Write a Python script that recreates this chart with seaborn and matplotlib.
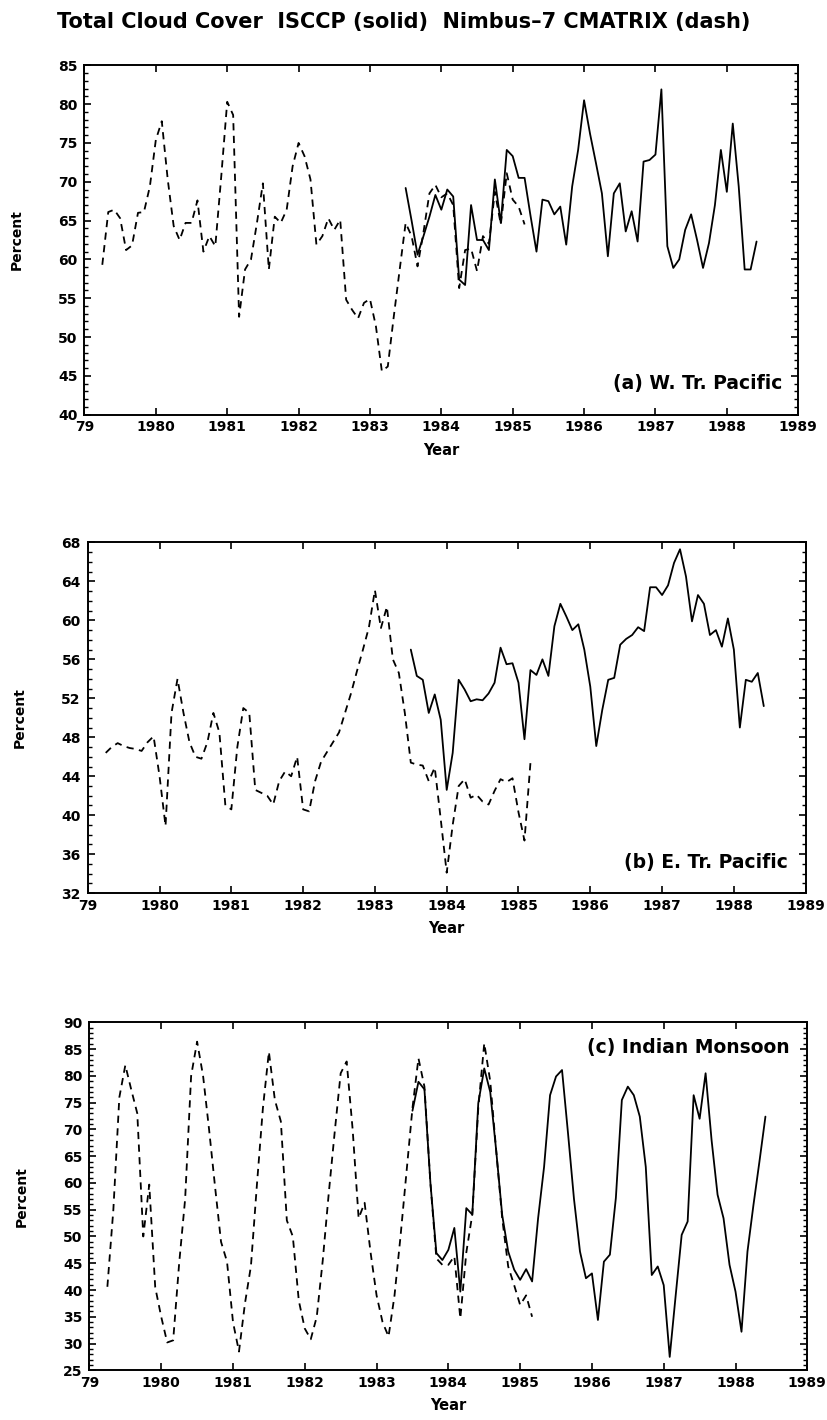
import numpy as np
import pandas as pd
import matplotlib
matplotlib.use("Agg")
import matplotlib.pyplot as plt
from matplotlib.ticker import MultipleLocator, FixedLocator
import seaborn as sns

# Monthly total cloud cover (%).
# Nimbus-7 CMATRIX: Apr 1979 - Mar 1985 ; ISCCP: Jul 1983 - Jun 1988
nimbus_start = (1979, 4)
isccp_start = (1983, 7)

w_pacific_nimbus = [
    59.3, 66.1, 66.4, 65.3, 61.2, 61.8, 66.0, 66.1, 69.4, 75.4, 77.8, 70.3,
    64.3, 62.5, 64.7, 64.7, 67.6, 61.0, 63.0, 61.7, 70.7, 80.3, 78.6, 52.6,
    58.7, 60.0, 64.7, 69.8, 58.7, 65.5, 64.7, 66.4, 72.0, 75.0, 73.3, 70.3,
    61.9, 63.0, 65.3, 63.8, 65.1, 54.8, 53.5, 52.4, 54.4, 54.9, 51.4, 45.6,
    46.2, 52.6, 58.7, 64.7, 63.0, 59.1, 63.5, 68.5, 69.6, 68.0, 68.5, 67.0,
    56.3, 61.2, 61.4, 58.5, 63.0, 62.0, 68.7, 64.5, 71.1, 67.7, 66.8, 64.5,
]
w_pacific_isccp = [
    69.2, 65.0, 60.6, 63.0, 65.5, 68.3, 66.4, 69.0, 68.1, 57.4, 56.7, 67.0,
    62.5, 62.5, 61.2, 70.3, 64.7, 74.1, 73.3, 70.5, 70.5, 65.6, 61.0, 67.7,
    67.5, 65.8, 66.8, 61.9, 69.4, 74.1, 80.5, 76.2, 72.4, 68.5, 60.4, 68.5,
    69.8, 63.6, 66.2, 62.3, 72.6, 72.8, 73.5, 81.9, 61.7, 58.9, 60.0, 63.8,
    65.8, 62.5, 58.9, 62.1, 67.0, 74.1, 68.7, 77.5, 69.4, 58.7, 58.7, 62.3,
]

e_pacific_nimbus = [
    46.4, 47.0, 47.4, 47.1, 46.9, 46.8, 46.6, 47.5, 48.1, 44.0, 38.9, 50.5,
    54.0, 50.5, 47.5, 46.0, 45.8, 47.5, 50.5, 48.5, 41.0, 40.6, 47.0, 51.0,
    50.5, 42.6, 42.3, 42.0, 41.1, 43.5, 44.5, 44.0, 46.0, 40.6, 40.4, 43.5,
    45.5, 46.5, 47.5, 48.5, 50.5, 52.5, 54.8, 57.0, 59.3, 63.1, 59.2, 61.4,
    56.0, 54.6, 50.5, 45.4, 45.2, 45.1, 43.5, 44.9, 39.6, 34.1, 39.0, 43.0,
    43.7, 41.8, 42.1, 41.4, 41.1, 42.5, 43.7, 43.4, 43.8, 40.3, 37.4, 45.4,
]
e_pacific_isccp = [
    57.0, 54.3, 53.9, 50.5, 52.4, 49.8, 42.6, 46.4, 53.9, 52.9, 51.7, 51.9,
    51.8, 52.5, 53.6, 57.2, 55.5, 55.6, 53.6, 47.8, 54.9, 54.4, 56.0, 54.3,
    59.4, 61.7, 60.4, 59.0, 59.6, 57.0, 53.2, 47.1, 50.8, 53.9, 54.1, 57.5,
    58.1, 58.5, 59.3, 58.9, 63.4, 63.4, 62.6, 63.6, 65.9, 67.3, 64.5, 59.9,
    62.6, 61.7, 58.5, 59.0, 57.3, 60.2, 57.0, 49.0, 53.9, 53.7, 54.6, 51.2,
]

monsoon_nimbus = [
    40.6, 55.0, 76.0, 82.0, 77.4, 73.0, 50.0, 59.7, 40.5, 35.0, 30.2, 30.6,
    45.0, 57.0, 80.0, 86.4, 80.0, 70.0, 59.3, 49.0, 45.3, 34.0, 28.5, 37.5,
    44.5, 59.7, 74.0, 84.5, 75.5, 71.5, 53.0, 50.0, 38.0, 32.8, 30.8, 35.0,
    45.5, 58.0, 69.5, 80.5, 82.7, 70.0, 53.4, 56.3, 47.0, 39.0, 34.0, 31.3,
    39.0, 50.0, 62.0, 74.0, 83.3, 78.0, 60.0, 45.9, 44.7, 44.7, 46.3, 34.7,
    47.0, 54.1, 74.0, 86.1, 79.0, 66.0, 53.4, 44.4, 40.9, 37.2, 39.0, 35.0,
]
monsoon_isccp = [
    73.5, 78.9, 77.5, 60.0, 46.9, 45.6, 47.5, 51.6, 39.7, 55.3, 54.1, 74.9,
    81.4, 77.0, 66.0, 54.0, 47.2, 43.8, 41.9, 43.9, 41.6, 53.4, 63.0, 76.4,
    79.9, 81.1, 69.3, 57.0, 47.2, 42.2, 43.1, 34.4, 45.3, 46.6, 57.2, 75.5,
    78.0, 76.4, 72.4, 63.0, 42.8, 44.4, 40.9, 27.5, 39.0, 50.3, 52.8, 76.4,
    72.0, 80.5, 68.0, 57.8, 53.4, 44.7, 39.7, 32.2, 47.2, 55.9, 64.0, 72.4,
]

region_labels = ["(a) W. Tr. Pacific", "(b) E. Tr. Pacific", "(c) Indian Monsoon"]
y_limits = [(40, 85), (32, 68), (25, 90)]
y_major_steps = [5, 4, 5]
year_ticks = list(range(1979, 1990))
year_tick_labels = ["79"] + [str(y) for y in range(1980, 1990)]
title = "Total Cloud Cover  ISCCP (solid)  Nimbus\u20137 CMATRIX (dash)"


def decimal_years(start, n):
    y, m = start
    return y + (m - 1 + np.arange(n)) / 12.0


def long_frame(nimbus, isccp):
    return pd.concat([
        pd.DataFrame({"year": decimal_years(nimbus_start, len(nimbus)),
                      "percent": nimbus, "source": "Nimbus-7 CMATRIX"}),
        pd.DataFrame({"year": decimal_years(isccp_start, len(isccp)),
                      "percent": isccp, "source": "ISCCP"}),
    ], ignore_index=True)


frames = [
    long_frame(w_pacific_nimbus, w_pacific_isccp),
    long_frame(e_pacific_nimbus, e_pacific_isccp),
    long_frame(monsoon_nimbus, monsoon_isccp),
]

sns.set_theme(style="ticks")
plt.rcParams["font.family"] = ["DejaVu Sans"]
plt.rcParams.update({
    "axes.linewidth": 1.4,
    "text.color": "black",
    "axes.labelcolor": "black",
    "xtick.color": "black",
    "ytick.color": "black",
    "axes.edgecolor": "black",
})

fig = plt.figure(figsize=(8.28, 14.2), dpi=100)
fig.text(0.488, 0.9845, title, ha="center", va="center",
         fontsize=15, fontweight="bold")

# axes rectangles in figure fractions
rects = [
    (0.102, 0.708, 0.862, 0.246),
    (0.106, 0.371, 0.867, 0.247),
    (0.108, 0.035, 0.867, 0.245),
]
label_pos = [(0.978, 0.09), (0.975, 0.087), (0.975, 0.928)]

line_styles = {"ISCCP": "", "Nimbus-7 CMATRIX": (4, 3)}

for i, (rect, df) in enumerate(zip(rects, frames)):
    ax = fig.add_axes(rect)
    sns.lineplot(data=df, x="year", y="percent", style="source",
                 dashes=line_styles, color="black", lw=1.3,
                 estimator=None, legend=False, ax=ax)
    ax.set_xlim(1979, 1989)
    ax.set_ylim(*y_limits[i])
    ax.xaxis.set_major_locator(FixedLocator(year_ticks))
    ax.set_xticklabels(year_tick_labels)
    ax.yaxis.set_major_locator(MultipleLocator(y_major_steps[i]))
    ax.yaxis.set_minor_locator(MultipleLocator(1))
    ax.tick_params(axis="both", which="both", direction="in",
                   top=True, right=True, labelsize=10, colors="black")
    ax.tick_params(axis="both", which="major", length=5, width=1.2)
    ax.tick_params(axis="y", which="minor", length=3, width=1.0)
    ax.tick_params(axis="y", which="major", pad=5)
    ax.tick_params(axis="x", which="major", pad=4)
    for lab in ax.get_xticklabels() + ax.get_yticklabels():
        lab.set_fontweight("bold")
    ax.set_xlabel("Year", fontsize=10.5, fontweight="bold", labelpad=6)
    ax.set_ylabel("Percent", fontsize=10, fontweight="bold")
    ax.yaxis.set_label_coords(-0.085, 0.5)
    for sp in ax.spines.values():
        sp.set_color("black")
        sp.set_linewidth(1.4)
    lx, ly = label_pos[i]
    ax.text(lx, ly, region_labels[i], transform=ax.transAxes,
            ha="right", va="center", fontsize=13.5, fontweight="bold")

fig.savefig("out.png", dpi=100, facecolor="white")
